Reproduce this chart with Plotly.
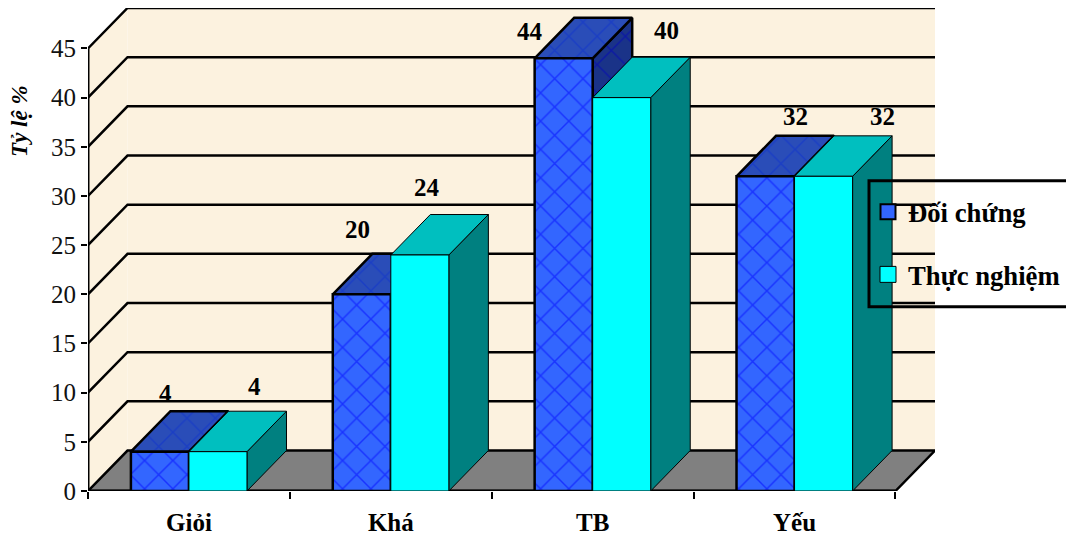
import plotly.graph_objects as go

# Survey results: share of students (%) per grade band and group
categories = ["Giỏi", "Khá", "TB", "Yếu"]
doi_chung = [4, 20, 44, 32]
thuc_nghiem = [4, 24, 40, 32]
y_ticks = [0, 5, 10, 15, 20, 25, 30, 35, 40, 45]

# Oblique projection of the depth axis, in axis units
PX_X = 201.75
PX_Y = 9.844
DX = 39.5 / PX_X
DY = 40.5 / PX_Y
BAR_W = 58 / PX_X
N = len(categories)
Y_MAX = y_ticks[-1]

# Plot rectangle in figure pixels
W, H = 1066, 535
LEFT, RIGHT, TOP, BOTTOM = 88, 935, 8, 491.5
PW, PH = RIGHT - LEFT, BOTTOM - TOP

WALL = "#FCF2DF"
BLUE = ("#3366FF", "#2A4DB8", "#1A3388")
BLUE_FG = ("#0000FF", "#0B30D0", "#0000C0")
CYAN = ("#00FFFF", "#00BFBF", "#008080")

fig = go.Figure()


def poly(xs, ys, fill, line_color="black", width=1, pattern=None):
    kw = {}
    if pattern:
        kw["fillpattern"] = dict(shape="x", bgcolor=fill, fgcolor=pattern, size=20, solidity=0.14)
    fig.add_trace(go.Scatter(
        x=xs + xs[:1], y=ys + ys[:1], mode="lines", fill="toself", fillcolor=fill,
        line=dict(color=line_color, width=width), showlegend=False,
        hoverinfo="skip", cliponaxis=False, **kw))


def seg(xs, ys, width=2.5):
    fig.add_trace(go.Scatter(
        x=xs, y=ys, mode="lines", line=dict(color="black", width=width),
        showlegend=False, hoverinfo="skip", cliponaxis=False))


# Walls and floor
poly([0, DX, DX, 0], [0, DY, Y_MAX + DY, Y_MAX], WALL, WALL, 0)
poly([DX, N + DX, N + DX, DX], [DY, DY, Y_MAX + DY, Y_MAX + DY], WALL, WALL, 0)
poly([0, DX, N + DX, N], [0, DY, DY, 0], "#808080", "black", 2.5)

# Gridlines run along the side wall, then along the back wall
for t in y_ticks[1:]:
    seg([0, DX, N + DX], [t, t + DY, t + DY])
seg([0, 0], [0, Y_MAX], 3)
seg([0, N], [0, 0], 3)


def box(x0, value, colors, width, fg=None):
    x1 = x0 + BAR_W
    p = fg or (None, None, None)
    poly([x1, x1 + DX, x1 + DX, x1], [0, DY, value + DY, value], colors[2], "black", width, p[2])
    poly([x0, x1, x1 + DX, x0 + DX], [value, value, value + DY, value + DY], colors[1], "black", width, p[1])
    poly([x0, x1, x1, x0], [0, 0, value, value], colors[0], "black", width, p[0])


for i in range(N):
    c = i + 0.5
    box(c - BAR_W, doi_chung[i], BLUE, 2.5, BLUE_FG)
    box(c, thuc_nghiem[i], CYAN, 1)

# Legend entries
fig.add_trace(go.Scatter(
    x=[None], y=[None], mode="markers", name="Đối chứng", legendgroup="a",
    marker=dict(symbol="square", size=15, color=BLUE[0], line=dict(color="black", width=2))))
fig.add_trace(go.Scatter(
    x=[None], y=[None], mode="markers", name="Thực nghiệm", legendgroup="b",
    marker=dict(symbol="square", size=16, color=CYAN[0], line=dict(color="black", width=1))))

# Value labels with per-bar pixel offsets
blue_off = [(6, 58), (-4, 65), (-34, 27), (30, 60)]
cyan_off = [(37, 65), (7, 67), (45, 67), (59, 60)]
for i in range(N):
    c = i + 0.5
    for val, off, xc in ((doi_chung[i], blue_off[i], c - BAR_W / 2), (thuc_nghiem[i], cyan_off[i], c + BAR_W / 2)):
        fig.add_annotation(x=xc, y=val, text=str(val), showarrow=False, xshift=off[0], yshift=off[1],
                           font=dict(family="Liberation Serif", size=25, color="black", weight="bold"))

# Legend frame runs off the right edge of the page
fig.add_shape(type="rect", xref="paper", yref="paper",
              x0=(869 - LEFT) / PW, x1=(W + 20 - LEFT) / PW,
              y0=(BOTTOM - 307) / PH, y1=(BOTTOM - 181) / PH,
              line=dict(color="black", width=3), fillcolor="rgba(0,0,0,0)", layer="above")

fig.update_layout(
    width=W, height=H,
    margin=dict(l=LEFT, r=W - RIGHT, t=TOP, b=H - BOTTOM, autoexpand=False),
    paper_bgcolor="white", plot_bgcolor="rgba(0,0,0,0)",
    font=dict(family="Liberation Serif", color="black"),
    legend=dict(
        x=(868 - LEFT) / PW, y=(BOTTOM - 188) / PH, xanchor="left", yanchor="top",
        bgcolor="rgba(0,0,0,0)", borderwidth=0,
        font=dict(family="Liberation Serif", size=26.7, color="black", weight="bold"),
        tracegroupgap=25, itemwidth=30,
    ),
    xaxis=dict(
        range=[0, N + DX], showgrid=False, zeroline=False, showline=False,
        tickmode="array", tickvals=[i + 0.5 for i in range(N)], ticktext=categories,
        ticks="outside", ticklen=9, tickcolor="rgba(0,0,0,0)",
        tickfont=dict(family="Liberation Serif", size=25, color="black", weight="bold"),
        minor=dict(ticks="outside", tick0=0, dtick=1, ticklen=7, tickwidth=2, tickcolor="black", showgrid=False),
    ),
    yaxis=dict(
        range=[0, Y_MAX + DY], showgrid=False, zeroline=False, showline=False,
        tickmode="array", tickvals=y_ticks, ticks="outside", ticklen=6, tickwidth=2, tickcolor="black",
        tickfont=dict(family="Liberation Serif", size=25, color="#111111"),
    ),
)
fig.add_annotation(xref="paper", yref="paper", x=(20 - LEFT) / PW, y=(BOTTOM - 121) / PH,
                   xanchor="center", yanchor="middle", text="<b><i>Tỷ lệ %</i></b>",
                   textangle=-90, showarrow=False,
                   font=dict(family="Liberation Serif", size=23, color="black"))

fig.write_html("out.html")
